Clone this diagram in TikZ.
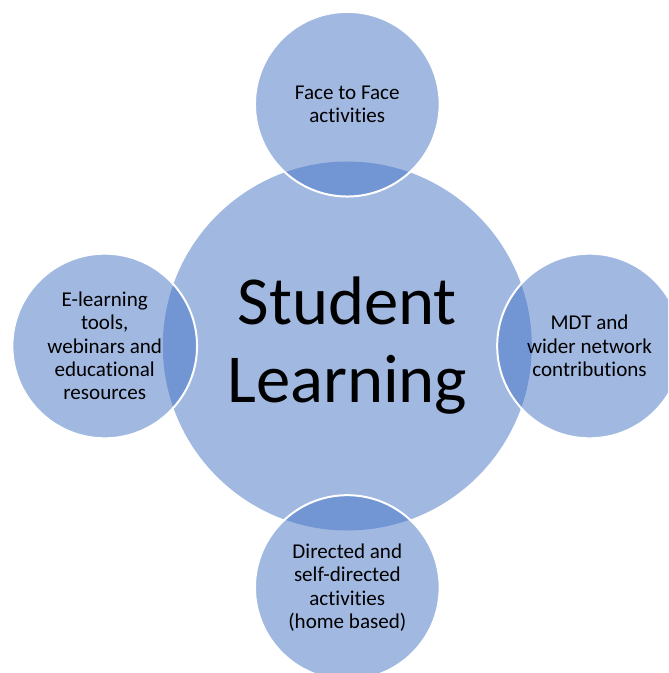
\documentclass[tikz,border=0pt]{standalone}
\usepackage{fontspec}
\setmainfont{Carlito}[RawFeature={-liga}]
\definecolor{accent}{HTML}{4472C4}
\begin{document}
\begin{tikzpicture}[x=0.75pt,y=-0.75pt,
  bubble/.style={circle,fill=accent,fill opacity=0.5,text opacity=1,
    draw=white,draw opacity=1,line width=1.5pt,inner sep=0pt,align=center,
    text=black},
  hubbubble/.style={bubble,draw=none,minimum size=276.75pt,
    font=\fontsize{51.5}{58.5}\selectfont},
  leaf/.style={bubble,minimum size=138.5pt,
    font=\fontsize{15.8}{17.5}\selectfont}]
  \useasboundingbox (0,0) rectangle (668,673);
  \clip (0,0) rectangle (668,673);
  % central circle
  \node[hubbubble] (hub) at (347.3,346) {Student\\Learning};
  % surrounding circles
  \node[leaf] (ftf) at (347.3,104.2) {Face to Face\\activities};
  \node[leaf] (elearn) at (104.7,346) {E-learning\\tools,\\webinars and\\educational\\resources};
  \node[leaf] (mdt) at (589.5,346) {MDT and\\wider network\\contributions};
  \node[leaf] (directed) at (347.3,587.5) {Directed and\\self-directed\\activities\\(home based)};
\end{tikzpicture}
\end{document}
